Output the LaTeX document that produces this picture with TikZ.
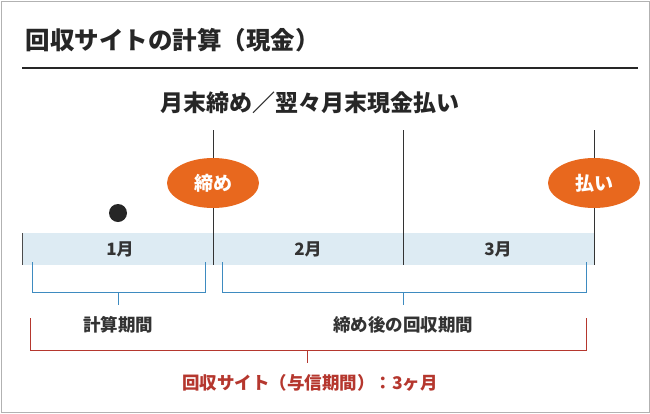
\documentclass[tikz,border=0pt]{standalone}
\usepackage{fontspec}
\usetikzlibrary{shapes.geometric}
\setmainfont{Noto Sans CJK JP}
\definecolor{org}{HTML}{E8681E}
\definecolor{barb}{HTML}{DDEBF3}
\definecolor{blu}{HTML}{3E8BC0}
\definecolor{redd}{HTML}{B5372E}
\begin{document}
\begin{tikzpicture}[x=1pt,y=-1pt,
 vline/.style={draw=black!80,line width=0.9pt},
 bub/.style={ellipse,fill=org,minimum width=92pt,minimum height=50pt,inner sep=0pt,text=white,font=\fontsize{19}{19}\selectfont\bfseries},
 lbl/.style={font=\fontsize{17}{17}\selectfont\bfseries,text=black!80},
 brk/.style={line width=1pt}]
\path[use as bounding box] (0,0) rectangle (650,413);
\draw[black!30,line width=1pt] (1,1) rectangle (649,412);
\node[anchor=west,font=\fontsize{24.5}{24.5}\selectfont\bfseries,text=black!85] (title) at (22,40) {回収サイトの計算（現金）};
\draw[black!85,line width=1.2pt] (22,68) -- (638,68);
\node[font=\fontsize{23}{23}\selectfont\bfseries,text=black!85] (sub) at (310,103) {月末締め／翌々月末現金払い};
\fill[barb] (22,233) rectangle (594,265);
\draw[black!70,line width=0.6pt] (22,233) -- (22,265);
\draw[vline] (213,130) -- (213,265);
\draw[vline] (403,130) -- (403,265);
\draw[vline] (594,130) -- (594,265);
\node[lbl] (m1) at (120,249) {1月};
\node[lbl] (m2) at (308,249) {2月};
\node[lbl] (m3) at (498,249) {3月};
\node[bub] (shime) at (213,183) {締め};
\node[bub] (harai) at (594,183) {払い};
\fill[black!85] (118,213) circle (9);
\draw[blu,brk] (32,262) -- (32,292) -- (205,292) -- (205,262);
\draw[blu,brk] (118,292) -- (118,305);
\draw[blu,brk] (222,262) -- (222,292) -- (586,292) -- (586,262);
\draw[blu,brk] (403,292) -- (403,305);
\node[lbl,font=\fontsize{17.5}{17.5}\selectfont\bfseries] (k1) at (118,325) {計算期間};
\node[lbl,font=\fontsize{17.5}{17.5}\selectfont\bfseries] (k2) at (403,325) {締め後の回収期間};
\draw[redd,brk] (30,318) -- (30,350) -- (586,350) -- (586,318);
\draw[redd,brk] (307,350) -- (307,363);
\node[font=\fontsize{17.5}{17.5}\selectfont\bfseries,text=redd] (site) at (310,383) {回収サイト（与信期間）：3ヶ月};
\end{tikzpicture}
\end{document}
